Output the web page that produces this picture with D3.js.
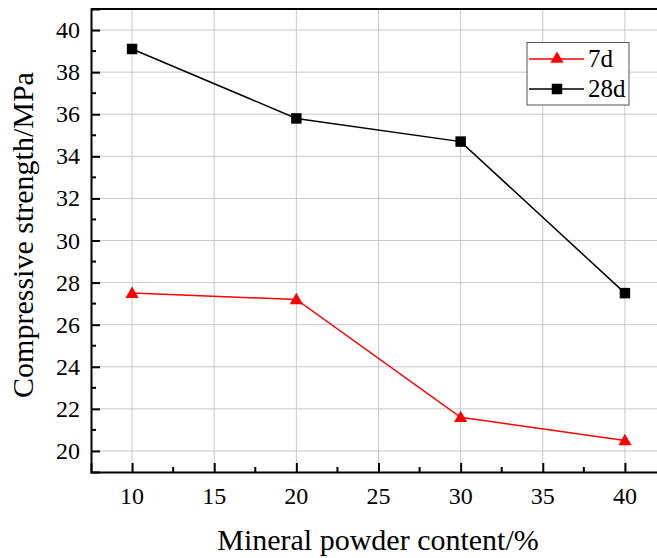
<!DOCTYPE html>
<html>
<head>
<meta charset="utf-8">
<script src="https://cdn.jsdelivr.net/npm/d3@7"></script>
<style>
  body { margin: 0; background: #fff; }
  svg { display: block; }
  .lbl { font-family: "Liberation Serif", "Times New Roman", serif; fill: #000; }
</style>
</head>
<body>
<svg width="657" height="558"></svg>
<script>
// data
var contents = [10, 20, 30, 40];
var strength7d = [27.5, 27.2, 21.6, 20.5];
var strength28d = [39.1, 35.8, 34.7, 27.5];
var xTicks = [10, 15, 20, 25, 30, 35, 40];
var yTicks = [20, 22, 24, 26, 28, 30, 32, 34, 36, 38, 40];

var svg = d3.select("svg");

var pLeft = 91, pRight = 666, pTop = 9, pBottom = 472;

var x = d3.scaleLinear().domain([7.5, 42.5]).range([pLeft, pRight]);
var y = d3.scaleLinear().domain([19, 41]).range([pBottom, pTop]);

// grid
var grid = svg.append("g").attr("stroke", "#c8c8c8").attr("stroke-width", 1);
grid.selectAll(".gx").data(xTicks).enter().append("line")
  .attr("x1", d => x(d)).attr("x2", d => x(d))
  .attr("y1", pTop).attr("y2", pBottom);
grid.selectAll(".gy").data(yTicks).enter().append("line")
  .attr("x1", pLeft).attr("x2", pRight)
  .attr("y1", d => y(d)).attr("y2", d => y(d));

// axes with inward ticks, labels drawn separately
var xAxis = d3.axisBottom(x).tickValues(xTicks).tickSize(-9).tickFormat("");
var yAxis = d3.axisLeft(y).tickValues(yTicks).tickSize(-9).tickFormat("");

var gx = svg.append("g").attr("transform", "translate(0," + pBottom + ")").call(xAxis);
var gy = svg.append("g").attr("transform", "translate(" + pLeft + ",0)").call(yAxis);

[gx, gy].forEach(function(g) {
  g.select(".domain").attr("stroke", "#000").attr("stroke-width", 2);
  g.selectAll(".tick line").attr("stroke", "#000").attr("stroke-width", 2);
});

svg.append("g").selectAll("text").data(xTicks).enter().append("text")
  .attr("class", "lbl")
  .attr("x", d => x(d)).attr("y", 504)
  .attr("text-anchor", "middle")
  .style("font-size", "24px")
  .text(d => d);
svg.append("g").selectAll("text").data(yTicks).enter().append("text")
  .attr("class", "lbl")
  .attr("x", 80).attr("y", d => y(d) + 8)
  .attr("text-anchor", "end")
  .style("font-size", "24px")
  .text(d => d);

// minor ticks
var minorX = d3.range(12.5, 42.5, 5);
var minorY = d3.range(21, 41, 2);
svg.append("g").selectAll("line").data(minorX).enter().append("line")
  .attr("x1", d => x(d)).attr("x2", d => x(d))
  .attr("y1", pBottom).attr("y2", pBottom - 5)
  .attr("stroke", "#000").attr("stroke-width", 2);
svg.append("g").selectAll("line").data(minorY).enter().append("line")
  .attr("x1", pLeft).attr("x2", pLeft + 5)
  .attr("y1", d => y(d)).attr("y2", d => y(d))
  .attr("stroke", "#000").attr("stroke-width", 2);

// top frame
svg.append("line").attr("x1", pLeft).attr("x2", pRight).attr("y1", pTop).attr("y2", pTop)
  .attr("stroke", "#000").attr("stroke-width", 2);

// lines
var line = d3.line().x((d, i) => x(contents[i])).y(d => y(d));

svg.append("path").datum(strength7d).attr("d", line)
  .attr("fill", "none").attr("stroke", "#ff0000").attr("stroke-width", 1.5);
svg.append("path").datum(strength28d).attr("d", line)
  .attr("fill", "none").attr("stroke", "#000").attr("stroke-width", 1.5);

var tri = d3.symbol().type(d3.symbolTriangle).size(75);
var sq = d3.symbol().type(d3.symbolSquare).size(110);

svg.append("g").selectAll("path").data(strength7d).enter().append("path")
  .attr("d", tri)
  .attr("transform", (d, i) => "translate(" + x(contents[i]) + "," + (y(d) + 1) + ")")
  .attr("fill", "#ff0000");
svg.append("g").selectAll("path").data(strength28d).enter().append("path")
  .attr("d", sq)
  .attr("transform", (d, i) => "translate(" + x(contents[i]) + "," + y(d) + ")")
  .attr("fill", "#000");

// legend
var legend = svg.append("g");
legend.append("rect").attr("x", 527).attr("y", 42.5).attr("width", 102).attr("height", 62.5)
  .attr("fill", "#fff").attr("stroke", "#555").attr("stroke-width", 1);
var items = [
  { name: "7d", color: "#ff0000", sym: tri, y: 59 },
  { name: "28d", color: "#000", sym: sq, y: 89 }
];
items.forEach(function(it) {
  legend.append("line").attr("x1", 529).attr("x2", 584).attr("y1", it.y).attr("y2", it.y)
    .attr("stroke", it.color).attr("stroke-width", 1.5);
  legend.append("path").attr("d", it.sym)
    .attr("transform", "translate(557," + it.y + ")")
    .attr("fill", it.color);
  legend.append("text").attr("class", "lbl").attr("x", 588).attr("y", it.y + 8)
    .style("font-size", "25px").text(it.name);
});

// axis titles
svg.append("text").attr("class", "lbl").attr("x", 378).attr("y", 550)
  .attr("text-anchor", "middle").style("font-size", "30px")
  .text("Mineral powder content/%");
svg.append("text").attr("class", "lbl").attr("transform", "translate(33,235) rotate(-90)")
  .attr("text-anchor", "middle").style("font-size", "30px")
  .text("Compressive strength/MPa");
</script>
</body>
</html>
